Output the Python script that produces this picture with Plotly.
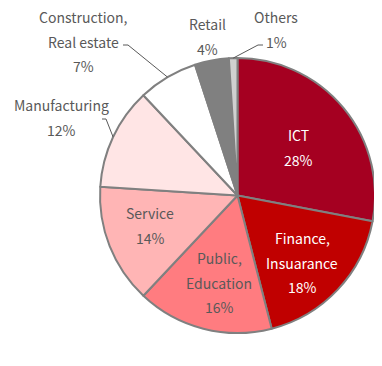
import math
import plotly.graph_objects as go

# ---- data ----
categories = ["ICT", "Finance, Insuarance", "Public, Education", "Service",
              "Manufacturing", "Construction, Real estate", "Retail", "Others"]
shares = [28, 18, 16, 14, 12, 7, 4, 1]
label_lines = [["ICT"], ["Finance,", "Insuarance"], ["Public,", "Education"], ["Service"],
               ["Manufacturing"], ["Construction,", "Real estate"], ["Retail"], ["Others"]]

# ---- style / layout ----
colors = ["#a50021", "#c00000", "#ff7c80", "#ffb5b5", "#ffe5e5", "#ffffff", "#808080", "#d0d0d0"]
text_colors = ["#ffffff", "#ffffff", "#595959", "#595959", "#595959", "#595959", "#595959", "#595959"]
W, H = 382, 366
OFF = 8  # page body margin
CX, CY, R = 237.5 - OFF, 195.5 - OFF, 137.5
FONT = "Noto Sans CJK JP"
FS = 14
LINE = 24.5

# label anchor (center of first line) in page pixels
label_pos = [(298, 135), (302, 238), (219, 258), (150, 213),
             (61, 105), (83, 17), (207, 24), (276, 17)]
# leader lines: (elbow point, end of horizontal tick) or None
leaders = [None, None, None, None,
           ((106, 119), (102, 119)),
           ((128, 45), (123, 45)),
           None,
           ((258, 45), (263, 45))]

fig = go.Figure()
fig.add_trace(go.Pie(
    labels=categories, values=shares, sort=False, direction="clockwise", rotation=0,
    marker=dict(colors=colors, line=dict(color="#808080", width=2)),
    textinfo="none", hoverinfo="label+percent", showlegend=False,
    domain=dict(x=[(CX - R) / W, (CX + R) / W], y=[1 - (CY + R) / H, 1 - (CY - R) / H]),
))

total = sum(shares)
annotations = []
shapes = []
cum = 0
for i, v in enumerate(shares):
    mid = (cum + v / 2) / total * 2 * math.pi
    cum += v
    x0, y0 = label_pos[i]
    x0, y0 = x0 - OFF, y0 - OFF
    lines = label_lines[i] + [f"{round(v / total * 100)}%"]
    for k, t in enumerate(lines):
        annotations.append(dict(x=x0, y=y0 + k * LINE, xref="x", yref="y", text=t,
                                showarrow=False, xanchor="center", yanchor="middle",
                                borderpad=0,
                                font=dict(family=FONT, size=FS, color=text_colors[i])))
    if leaders[i]:
        ex, ey = CX + R * math.sin(mid), CY - R * math.cos(mid)
        (bx, by), (tx, ty) = leaders[i]
        shapes.append(dict(type="path", xref="x", yref="y",
                           path=f"M {ex:.1f} {ey:.1f} L {bx - OFF} {by - OFF} L {tx - OFF} {ty - OFF}",
                           line=dict(color="#595959", width=1)))

fig.update_layout(
    width=W, height=H, margin=dict(l=0, r=0, t=0, b=0),
    paper_bgcolor="white", plot_bgcolor="rgba(0,0,0,0)",
    xaxis=dict(range=[0, W], visible=False, fixedrange=True, domain=[0, 1]),
    yaxis=dict(range=[H, 0], visible=False, fixedrange=True, domain=[0, 1]),
    annotations=annotations, shapes=shapes,
)
fig.write_html("out.html")
